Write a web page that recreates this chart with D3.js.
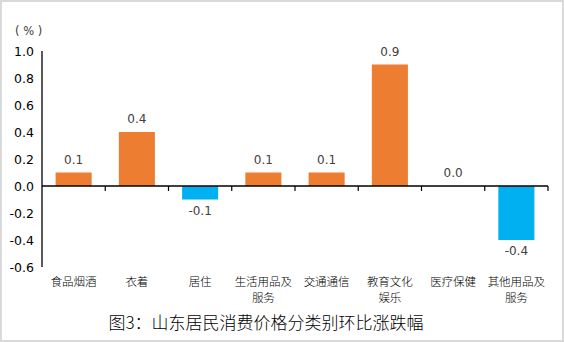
<!DOCTYPE html>
<html><head><meta charset="utf-8">
<script src="https://cdn.jsdelivr.net/npm/d3@7"></script>
<style>body{margin:0;background:#fff}svg{display:block}</style>
</head><body>
<svg id="c" width="564" height="342"></svg>
<script>
const categories = [["食品烟酒"],["衣着"],["居住"],["生活用品及","服务"],["交通通信"],["教育文化","娱乐"],["医疗保健"],["其他用品及","服务"]];
const values = [0.1, 0.4, -0.1, 0.1, 0.1, 0.9, 0.0, -0.4];
const yTicks = [1.0, 0.8, 0.6, 0.4, 0.2, 0.0, -0.2, -0.4, -0.6];
const title = "图3：山东居民消费价格分类别环比涨跌幅";
const unit = "( % )";

const fmt = d => d3.format(".1f")(d).replace("\u2212","-");
const svg = d3.select("#c");
svg.append("rect").attr("x",1).attr("y",1).attr("width",562).attr("height",340)
  .attr("fill","#fff").attr("stroke","#d9d9d9").attr("stroke-width",2);

const x = d3.scaleBand().domain(d3.range(values.length)).range([42,548]).paddingInner(0.43).paddingOuter(0.215);
const y = d3.scaleLinear().domain([-0.6,1.0]).range([267,51]);

const g = svg.append("g");
g.append("line").attr("x1",42).attr("x2",42).attr("y1",y(1.0)).attr("y2",y(-0.6)).attr("stroke","#000").attr("stroke-width",1.3);
g.selectAll("text.yt").data(yTicks).join("text").attr("class","yt")
  .attr("x",34).attr("y",d=>y(d)).attr("dy","0.36em").attr("text-anchor","end")
  .attr("font-family","DejaVu Sans, sans-serif").attr("font-size",12.5).attr("fill","#000")
  .text(fmt);
svg.append("text").attr("x",15).attr("y",35).attr("font-family","DejaVu Sans, sans-serif")
  .attr("font-size",11.5).attr("fill","#404040").text(unit);

g.selectAll("rect.bar").data(values).join("rect").attr("class","bar")
  .attr("x",(d,i)=>x(i)).attr("width",x.bandwidth())
  .attr("y",d=>y(Math.max(0,d))).attr("height",d=>Math.abs(y(d)-y(0)))
  .attr("fill",d=>d<0?"#00B0F0":"#ED7D31");

g.append("line").attr("x1",42).attr("x2",548).attr("y1",y(0)).attr("y2",y(0)).attr("stroke","#000").attr("stroke-width",1.3);
g.selectAll("line.tk").data(d3.range(1,values.length+1)).join("line").attr("class","tk")
  .attr("x1",i=>42+i*(506/values.length)).attr("x2",i=>42+i*(506/values.length))
  .attr("y1",y(0)).attr("y2",y(0)+5).attr("stroke","#000").attr("stroke-width",1.2);

g.selectAll("text.vl").data(values).join("text").attr("class","vl")
  .attr("x",(d,i)=>x(i)+x.bandwidth()/2)
  .attr("y",d=>d<0? y(d)+15 : y(d)-9)
  .attr("text-anchor","middle").attr("font-family","DejaVu Sans, sans-serif")
  .attr("font-size",12).attr("fill","#404040")
  .text(fmt);

const cl = g.selectAll("text.cl").data(categories).join("text").attr("class","cl")
  .attr("text-anchor","middle").attr("font-family","Noto Sans CJK SC, sans-serif")
  .attr("font-size",11.5).attr("font-weight",300).attr("fill","#000");
cl.each(function(lines,i){
  d3.select(this).selectAll("tspan").data(lines).join("tspan")
    .attr("x",x(i)+x.bandwidth()/2).attr("y",(l,j)=>286+j*16).text(l=>l);
});

svg.append("text").attr("x",266).attr("y",329).attr("text-anchor","middle")
  .attr("font-family","Noto Sans CJK SC, sans-serif").attr("font-size",17).attr("font-weight",300).attr("fill","#000")
  .text(title);
</script>
</body></html>
